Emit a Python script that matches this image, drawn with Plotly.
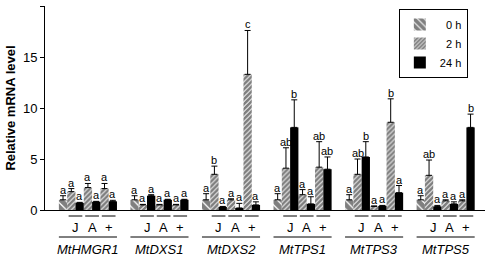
import plotly.graph_objects as go

genes = ["MtHMGR1", "MtDXS1", "MtDXS2", "MtTPS1", "MtTPS3", "MtTPS5"]
treatments = ["J", "A", "+"]
y_ticks = [0, 5, 10, 15, 20]

# 0 h control per gene
h0 = [1.0, 1.0, 1.0, 1.0, 1.0, 1.0]
h0_err = [0.4, 0.4, 0.6, 0.6, 0.5, 0.4]
h0_lab = ["a", "a", "a", "a", "a", "a"]

# 2 h values per gene, order J, A, +
h2 = [[1.8, 2.2, 2.1], [0.5, 0.5, 0.5], [3.5, 1.0, 13.3],
      [4.1, 1.5, 4.2], [3.5, 0.35, 8.6], [3.4, 0.9, 0.9]]
h2_err = [[0.3, 0.4, 0.5], [0.05, 0.05, 0.05], [0.8, 0.1, 4.3],
          [2.0, 0.5, 2.5], [1.5, 0.05, 2.3], [1.5, 0.1, 0.1]]
h2_lab = [["a", "a", "a"], ["a", "a", "a"], ["b", "a", "c"],
          ["ab", "a", "ab"], ["ab", "a", "b"], ["ab", "a", "a"]]

# 24 h values per gene, order J, A, +
h24 = [[0.7, 0.8, 0.85], [1.4, 1.0, 1.0], [0.3, 0.2, 0.5],
       [8.1, 0.6, 4.0], [5.2, 0.4, 1.7], [0.35, 0.6, 8.1]]
h24_err = [[0.05, 0.05, 0.1], [0.1, 0.05, 0.05], [0.05, 0.45, 0.3],
           [2.7, 0.7, 1.2], [1.5, 0.05, 0.7], [0.1, 0.2, 1.3]]
h24_lab = [["a", "a", "a"], ["a", "a", "a"], ["a", "a", "a"],
           ["b", "a", "ab"], ["b", "a", "a"], ["a", "a", "b"]]

W = 0.116  # bar width in group units
FONT = "Arial, Liberation Sans, sans-serif"

def pos(i, slot):
    return i + (slot - 3) * W

x0 = [pos(i, 0) for i in range(len(genes))]
x2, y2, e2, l2 = [], [], [], []
x24, y24, e24, l24 = [], [], [], []
for i in range(len(genes)):
    for k in range(3):
        x2.append(pos(i, 1 + 2 * k)); y2.append(h2[i][k]); e2.append(h2_err[i][k]); l2.append(h2_lab[i][k])
        x24.append(pos(i, 2 + 2 * k)); y24.append(h24[i][k]); e24.append(h24_err[i][k]); l24.append(h24_lab[i][k])

def err(arr):
    return dict(type="data", array=arr, arrayminus=[0] * len(arr), symmetric=False,
                color="black", thickness=1, width=3)

PAT0 = dict(shape="\\", fgcolor="black", bgcolor="white", size=6, solidity=0.8)
PAT2 = dict(shape="/", fgcolor="black", bgcolor="white", size=3.5, solidity=0.75)

fig = go.Figure()
fig.add_trace(go.Bar(x=x0, y=h0, width=W, name="\u00a0\u00a00 h", error_y=err(h0_err),
                     marker=dict(color="white", line=dict(width=0), pattern=PAT0)))
fig.add_trace(go.Bar(x=x2, y=y2, width=W, name="\u00a0\u00a02 h", error_y=err(e2),
                     marker=dict(color="white", line=dict(width=0), pattern=PAT2)))
fig.add_trace(go.Bar(x=x24, y=y24, width=W, name="24 h", error_y=err(e24),
                     marker=dict(color="black", line=dict(width=0))))

# significance letters (as annotations at the top of each error bar)
lx = x0 + x2 + x24
ly = [v + e for v, e in zip(h0, h0_err)] + [v + e for v, e in zip(y2, e2)] + [v + e for v, e in zip(y24, e24)]
lt = h0_lab + l2 + l24

annotations = []
for xx, yy, tt in zip(lx, ly, lt):
    annotations.append(dict(x=xx, y=yy, xref="x", yref="y", text=tt, showarrow=False,
                            yanchor="bottom", yshift=-1, borderpad=0,
                            font=dict(family=FONT, size=11, color="black")))

PLOT_H = 204.0
def yp(px):
    return -px / PLOT_H

shapes = []
for i, g in enumerate(genes):
    for k, t in enumerate(treatments):
        a = pos(i, 1 + 2 * k) - W / 2 + 0.02
        b = pos(i, 2 + 2 * k) + W / 2 - 0.02
        shapes.append(dict(type="line", xref="x", yref="paper", x0=a, x1=b, y0=yp(6), y1=yp(6),
                           line=dict(color="black", width=1)))
        annotations.append(dict(x=(a + b) / 2, y=yp(18), xref="x", yref="paper", text=t,
                                showarrow=False, yanchor="middle",
                                font=dict(family=FONT, size=13, color="black")))
    shapes.append(dict(type="line", xref="x", yref="paper", x0=pos(i, 0) - W / 2, x1=pos(i, 6) + W / 2,
                       y0=yp(27), y1=yp(27), line=dict(color="black", width=1)))
    annotations.append(dict(x=i, y=yp(39), xref="x", yref="paper", text="<i>" + g + "</i>",
                            showarrow=False, yanchor="middle",
                            font=dict(family=FONT, size=13, color="black")))

fig.update_layout(
    width=490, height=257,
    margin=dict(l=45, r=5, t=6, b=47),
    paper_bgcolor="white", plot_bgcolor="white",
    barmode="overlay",
    font=dict(family=FONT, size=13, color="black"),
    shapes=shapes, annotations=annotations,
    legend=dict(x=0.961, y=0.985, xanchor="right", yanchor="top",
                bordercolor="black", borderwidth=1, bgcolor="white",
                font=dict(family=FONT, size=11, color="black"),
                itemwidth=30, tracegroupgap=0),
    xaxis=dict(range=[-0.6, 5.55], showticklabels=False, ticks="", showgrid=False,
               zeroline=False, showline=True, linecolor="black", linewidth=1, fixedrange=True),
    yaxis=dict(range=[0, 20], tickvals=y_ticks, ticks="outside", ticklen=4, tickcolor="black",
               showgrid=False, zeroline=False, showline=True, linecolor="black", linewidth=1,
               title=dict(text="<b>Relative mRNA level</b>", font=dict(family=FONT, size=13), standoff=4),
               tickfont=dict(family=FONT, size=13)),
    showlegend=True,
)

fig.write_html("out.html", config={"displayModeBar": False},
               post_script="document.body.style.margin='0';document.body.style.padding='0';")
